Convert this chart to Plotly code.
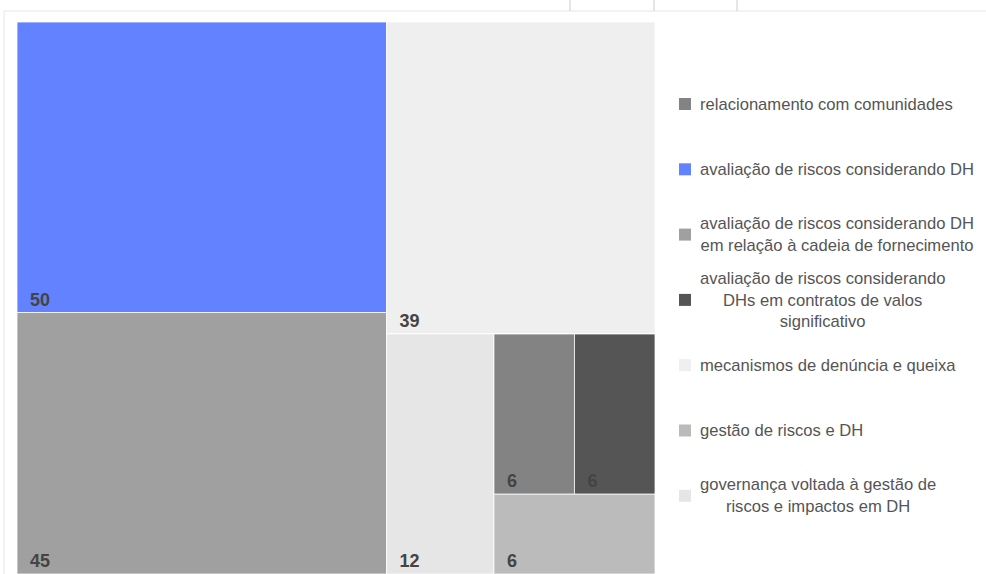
import textwrap
import plotly.graph_objects as go

# data
categories = [
    "relacionamento com comunidades",
    "avaliação de riscos considerando DH",
    "avaliação de riscos considerando DH em relação à cadeia de fornecimento",
    "avaliação de riscos considerando DHs em contratos de valos significativo",
    "mecanismos de denúncia e queixa",
    "gestão de riscos e DH",
    "governança voltada à gestão de riscos e impactos em DH",
]
counts = [6, 50, 45, 6, 39, 6, 12]
colors = ["#838383", "#6382ff", "#a0a0a0", "#555555", "#efefef", "#bbbbbb", "#e6e6e6"]

# invisible grouping nodes so that slice-dice tiling gives the original block arrangement
# (node, parent) in drawing order
tree = [
    ("root", ""),
    ("g1", "root"), (categories[1], "g1"), (categories[2], "g1"),
    ("g2", "root"), (categories[4], "g2"),
    ("g3", "g2"), (categories[6], "g3"),
    ("g4", "g3"), ("g5", "g4"),
    (categories[0], "g5"), (categories[3], "g5"),
    (categories[5], "g4"),
]

ids, parents, vals, cols, texts = [], [], [], [], []
for node, par in tree:
    ids.append(node)
    parents.append(par)
    if node in categories:
        i = categories.index(node)
        vals.append(counts[i])
        cols.append(colors[i])
        texts.append("\u00a0\u00a0" + str(counts[i]))
    else:
        vals.append(0)
        cols.append("white")
        texts.append("")

W, H = 986, 574
fig = go.Figure(go.Treemap(
    ids=ids, labels=ids, parents=parents, values=vals,
    text=texts, textinfo="text", textposition="bottom left",
    textfont=dict(family="Liberation Sans", size=18, color="#444444", weight="bold"),
    marker=dict(colors=cols, line=dict(color="rgba(255,255,255,0.75)", width=1),
                pad=dict(t=0, l=0, r=0, b=0)),
    tiling=dict(packing="slice-dice", pad=0),
    sort=False,
    pathbar=dict(visible=False),
    hoverinfo="skip",
    domain=dict(x=[17 / W, 655 / W], y=[0, 1 - 22 / H]),
))

# legend drawn on the right
ann = []
shapes = []
for i, (name, c) in enumerate(zip(categories, colors)):
    yc = 104 + i * 65.3
    ann.append(dict(
        x=698 / W, y=1 - yc / H, xref="paper", yref="paper",
        xanchor="left", yanchor="middle", align="center", showarrow=False,
        text="<br>".join(textwrap.wrap(name, 35)),
        font=dict(family="Liberation Sans", size=16.6, color="#555555"),
    ))
    shapes.append(dict(type="rect", xref="paper", yref="paper",
                       x0=679 / W, x1=691 / W, y0=1 - (yc - 6) / H, y1=1 - (yc + 6) / H,
                       fillcolor=c, line=dict(width=0)))

# frame lines
shapes.append(dict(type="line", xref="paper", yref="paper", x0=4 / W, x1=1, y0=1 - 11 / H, y1=1 - 11 / H,
                   line=dict(color="#e6e6e6", width=1)))
shapes.append(dict(type="line", xref="paper", yref="paper", x0=4 / W, x1=4 / W, y0=0, y1=1 - 11 / H,
                   line=dict(color="#e6e6e6", width=1)))
for tx in [570, 654, 737]:
    shapes.append(dict(type="line", xref="paper", yref="paper", x0=tx / W, x1=tx / W, y0=1, y1=1 - 11 / H,
                       line=dict(color="#cccccc", width=1)))

fig.update_layout(
    width=W, height=H,
    margin=dict(l=0, r=0, t=0, b=0),
    paper_bgcolor="white",
    annotations=ann,
    shapes=shapes,
)

fig.write_html("out.html", config={"displayModeBar": False},
               post_script="document.body.style.margin='0';document.body.style.overflow='hidden';")
